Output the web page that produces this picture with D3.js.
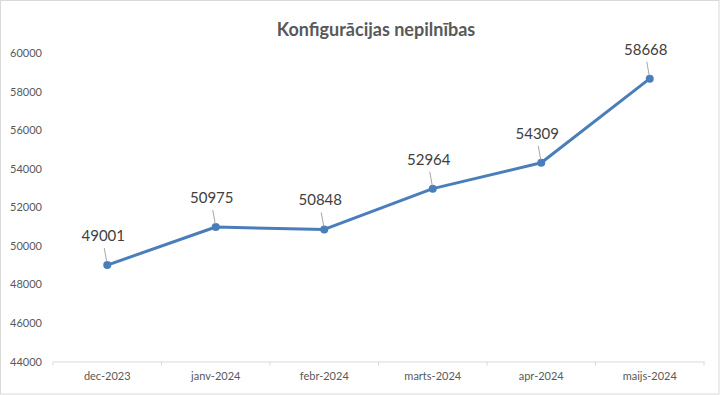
<!DOCTYPE html>
<html><head><meta charset="utf-8">
<script src="https://cdn.jsdelivr.net/npm/d3@7"></script>
<style>body{margin:0;background:#fff}svg{display:block}</style>
</head><body>
<svg id="c" width="720" height="395"></svg>
<script>
const title = "Konfigurācijas nepilnības";
const categories = ["dec-2023","janv-2024","febr-2024","marts-2024","apr-2024","maijs-2024"];
const values = [49001,50975,50848,52964,54309,58668];
const yTicks = [44000,46000,48000,50000,52000,54000,56000,58000,60000];

const svg = d3.select("#c");
const W=720,H=395;
const m={l:53,r:16,t:53,b:33.5};
svg.append("rect").attr("x",0.5).attr("y",0.5).attr("width",W-1.5).attr("height",H-1.5)
  .attr("fill","#fff").attr("stroke","#d9d9d9");

const x = d3.scaleBand().domain(categories).range([m.l,W-m.r]);
const y = d3.scaleLinear().domain([44000,60000]).range([H-m.b,m.t]);

svg.append("text").attr("x",376).attr("y",36).attr("text-anchor","middle")
  .attr("font-family","Lato").attr("font-weight","bold").attr("font-size",18).attr("fill","#595959").text(title);

// y axis labels
const ya = svg.append("g").attr("transform",`translate(${m.l},0)`)
  .call(d3.axisLeft(y).tickValues(yTicks).tickSize(0).tickPadding(11).tickFormat(d3.format("d")));
ya.select(".domain").remove();
ya.selectAll("text").attr("font-family","Lato").attr("font-size",11).attr("fill","#595959");

// x axis
const xa = svg.append("g").attr("transform",`translate(0,${y(44000)})`)
  .call(d3.axisBottom(x).tickSize(0).tickPadding(11));
xa.select(".domain").attr("stroke","#d9d9d9");
xa.selectAll("text").attr("font-family","Lato").attr("font-size",11).attr("fill","#595959");
const bounds = categories.map(c=>x(c)).concat([x(categories[categories.length-1])+x.bandwidth()]);
svg.append("g").selectAll("line").data(bounds).join("line")
  .attr("x1",d=>d).attr("x2",d=>d).attr("y1",y(44000)).attr("y2",y(44000)+4).attr("stroke","#d9d9d9");

const cx = c=>x(c)+x.bandwidth()/2;
const line = d3.line().x((d,i)=>cx(categories[i])).y(d=>y(d));
svg.append("path").datum(values).attr("d",line).attr("fill","none")
  .attr("stroke","#4a7ebb").attr("stroke-width",3).attr("stroke-linejoin","round");
svg.append("g").selectAll("circle").data(values).join("circle")
  .attr("cx",(d,i)=>cx(categories[i])).attr("cy",d=>y(d)).attr("r",4).attr("fill","#4a7ebb");

// leader lines and labels
const lbl = svg.append("g");
values.forEach((v,i)=>{
  const px=cx(categories[i]), py=y(v);
  lbl.append("line").attr("x1",px-3).attr("y1",py-17).attr("x2",px-0.5).attr("y2",py-3)
    .attr("stroke","#a6a6a6").attr("stroke-width",1);
  lbl.append("text").attr("x",px-4).attr("y",py-24).attr("text-anchor","middle")
    .attr("font-family","Lato").attr("font-size",15).attr("fill","#404040").text(v);
});
</script>
</body></html>
